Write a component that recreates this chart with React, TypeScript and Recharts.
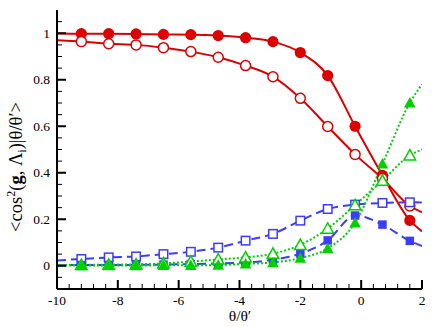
import React from 'react';
import { ComposedChart, Line, XAxis, YAxis } from 'recharts';

// theta/theta' sample positions
const thetaRatio = [-9.2, -8.3, -7.4, -6.5, -5.6, -4.7, -3.8, -2.9, -2.0, -1.1, -0.2, 0.7, 1.6];
const redFilled = [0.998, 0.998, 0.997, 0.995, 0.994, 0.990, 0.981, 0.964, 0.917, 0.818, 0.600, 0.389, 0.195];
const redOpen = [0.964, 0.955, 0.950, 0.938, 0.921, 0.897, 0.861, 0.813, 0.720, 0.599, 0.479, 0.375, 0.257];
const greenFilled = [0.001, 0.001, 0.001, 0.002, 0.002, 0.003, 0.008, 0.014, 0.033, 0.075, 0.185, 0.438, 0.701];
const greenOpen = [0.004, 0.005, 0.006, 0.010, 0.018, 0.027, 0.036, 0.052, 0.090, 0.160, 0.261, 0.366, 0.475];
const blueOpen = [0.029, 0.036, 0.040, 0.050, 0.060, 0.078, 0.108, 0.137, 0.194, 0.244, 0.263, 0.270, 0.273];
const blueFilled = [0.003, 0.003, 0.004, 0.005, 0.007, 0.010, 0.014, 0.026, 0.052, 0.109, 0.216, 0.177, 0.107];

// curve values at the plot edges (x = -10 and x = 2)
const curveEdgesX = [-10, 2];
const redFilledEdges = [0.999, 0.148];
const redOpenEdges = [0.970, 0.23];
const greenFilledEdges = [0.0, 0.78];
const greenOpenEdges = [0.003, 0.50];
const blueOpenEdges = [0.023, 0.272];
const blueFilledEdges = [0.002, 0.085];

const MAJOR_X = [-10, -8, -6, -4, -2, 0, 2];
const X_TICK_LABELS = ['-10', '-8', '-6', '-4', '-2', '0', '2'];
const MINOR_X = [-9.6, -9.2, -8.8, -8.4, -7.6, -7.2, -6.8, -6.4, -5.6, -5.2, -4.8, -4.4,
  -3.6, -3.2, -2.8, -2.4, -1.6, -1.2, -0.8, -0.4, 0.4, 0.8, 1.2, 1.6];
const MAJOR_Y = [0, 0.2, 0.4, 0.6, 0.8, 1];
const Y_TICK_LABELS = ['0', '0.2', '0.4', '0.6', '0.8', '1'];
const MINOR_Y = [-0.05, 0.05, 0.1, 0.15, 0.25, 0.3, 0.35, 0.45, 0.5, 0.55, 0.65, 0.7, 0.75,
  0.85, 0.9, 0.95, 1.05];

const RED = '#dd0000';
const GREEN = '#00d000';
const BLUE = '#3c3cff';
const FONT = '"Liberation Serif", "DejaVu Serif", serif';

const rows = [
  { x: curveEdgesX[0], rf: redFilledEdges[0], ro: redOpenEdges[0], gf: greenFilledEdges[0], go: greenOpenEdges[0], bo: blueOpenEdges[0], bf: blueFilledEdges[0], mark: false },
  ...thetaRatio.map((x, i) => ({
    x, rf: redFilled[i], ro: redOpen[i], gf: greenFilled[i], go: greenOpen[i], bo: blueOpen[i], bf: blueFilled[i], mark: true,
  })),
  { x: curveEdgesX[1], rf: redFilledEdges[1], ro: redOpenEdges[1], gf: greenFilledEdges[1], go: greenOpenEdges[1], bo: blueOpenEdges[1], bf: blueFilledEdges[1], mark: false },
];

const allX = [...MAJOR_X, ...MINOR_X].sort((a, b) => a - b);
const allY = [...MAJOR_Y, ...MINOR_Y].sort((a, b) => a - b);

const majorIndex = (v: number, list: number[]) => list.findIndex((m) => Math.abs(m - v) < 1e-6);

const BottomTick = (props: any) => {
  const { x, y, payload } = props;
  const i = majorIndex(payload.value, MAJOR_X);
  const len = i >= 0 ? 9 : 5;
  return (
    <g>
      <line x1={x} x2={x} y1={y} y2={y - len} stroke="#000" strokeWidth={i >= 0 ? 2 : 1} />
      {i >= 0 && (
        <text x={x} y={y + 16} textAnchor="middle" fontFamily={FONT} fontSize={13.5} fill="#000">
          {X_TICK_LABELS[i]}
        </text>
      )}
    </g>
  );
};

const TopTick = (props: any) => {
  const { x, y, payload } = props;
  const i = majorIndex(payload.value, MAJOR_X);
  const len = i >= 0 ? 9 : 5;
  return <line x1={x} x2={x} y1={y} y2={y + len} stroke="#000" strokeWidth={i >= 0 ? 2 : 1} />;
};

const LeftTick = (props: any) => {
  const { x, y, payload } = props;
  const i = majorIndex(payload.value, MAJOR_Y);
  const len = i >= 0 ? 9 : 5;
  return (
    <g>
      <line x1={x} x2={x + len} y1={y} y2={y} stroke="#000" strokeWidth={i >= 0 ? 2 : 1} />
      {i >= 0 && (
        <text x={x - 7} y={y + 4.5} textAnchor="end" fontFamily={FONT} fontSize={13.5} fill="#000">
          {Y_TICK_LABELS[i]}
        </text>
      )}
    </g>
  );
};

const RightTick = (props: any) => {
  const { x, y, payload } = props;
  const i = majorIndex(payload.value, MAJOR_Y);
  const len = i >= 0 ? 9 : 5;
  return <line x1={x} x2={x - len} y1={y} y2={y} stroke="#000" strokeWidth={i >= 0 ? 2 : 1} />;
};

type Kind = 'circleF' | 'circleO' | 'triF' | 'triO' | 'sqF' | 'sqO';

const makeDot = (kind: Kind, color: string) => (props: any) => {
  const { cx, cy, payload, index } = props;
  const key = `${kind}-${index}`;
  if (!payload || !payload.mark) return <g key={key} />;
  const filled = kind.endsWith('F');
  const fill = filled ? color : '#fff';
  const sw = filled ? 0 : 1.5;
  if (kind.startsWith('circle')) {
    return <circle key={key} cx={cx} cy={cy} r={filled ? 5.6 : 5} fill={fill} stroke={color} strokeWidth={sw} />;
  }
  if (kind.startsWith('sq')) {
    const s = 8.5;
    return <rect key={key} x={cx - s / 2} y={cy - s / 2} width={s} height={s} fill={fill} stroke={color} strokeWidth={sw} />;
  }
  const h = 5.8;
  const pts = `${cx},${cy - h} ${cx - h},${cy + h * 0.8} ${cx + h},${cy + h * 0.8}`;
  return <polygon key={key} points={pts} fill={fill} stroke={color} strokeWidth={sw} />;
};

const YLabel = () => (
  <text
    transform="translate(22,167) rotate(-90)"
    x={0}
    y={0}
    textAnchor="middle"
    fontFamily={FONT}
    fontSize={18.5}
    fill="#000"
  >
    {'<cos'}
    <tspan dy={-7} fontSize={12}>2</tspan>
    <tspan dy={7}>(</tspan>
    <tspan fontWeight="bold">g</tspan>
    <tspan>{', \u039B'}</tspan>
    <tspan dy={4} fontSize={12}>i</tspan>
    <tspan dy={-4}>{')|\u03B8/\u03B8\u2032>'}</tspan>
  </text>
);

const XLabel = () => (
  <text x={240} y={321} textAnchor="middle" fontFamily={FONT} fontSize={15.5} fill="#000">
    {'\u03B8/\u03B8\u2032'}
  </text>
);

export default function App() {
  return (
    <div style={{ position: 'absolute', left: 0, top: 0, width: 436, height: 327, background: '#fff' }}>
      <ComposedChart width={436} height={327} data={rows} margin={{ top: 10, right: 14, bottom: 8, left: 0 }}>
        <XAxis
          dataKey="x"
          type="number"
          domain={[-10, 2]}
          ticks={allX}
          interval={0}
          tickSize={0}
          tickMargin={0}
          tickLine={false}
          axisLine={{ stroke: '#000', strokeWidth: 2 }}
          tick={<BottomTick />}
          height={30}
          allowDataOverflow
          label={{ content: () => <XLabel /> }}
        />
        <XAxis
          xAxisId="top"
          orientation="top"
          type="number"
          domain={[-10, 2]}
          ticks={allX}
          interval={0}
          tickSize={0}
          tickMargin={0}
          tickLine={false}
          axisLine={{ stroke: '#000', strokeWidth: 2 }}
          tick={<TopTick />}
          height={0}
          allowDataOverflow
        />
        <YAxis
          type="number"
          domain={[-0.1, 1.1]}
          ticks={allY}
          interval={0}
          tickSize={0}
          tickMargin={0}
          tickLine={false}
          axisLine={{ stroke: '#000', strokeWidth: 2 }}
          tick={<LeftTick />}
          width={57}
          allowDataOverflow
          label={{ content: () => <YLabel /> }}
        />
        <YAxis
          yAxisId="right"
          orientation="right"
          type="number"
          domain={[-0.1, 1.1]}
          ticks={allY}
          interval={0}
          tickSize={0}
          tickMargin={0}
          tickLine={false}
          axisLine={{ stroke: '#000', strokeWidth: 2 }}
          tick={<RightTick />}
          width={0}
          allowDataOverflow
        />
        <Line type="monotone" dataKey="rf" stroke={RED} strokeWidth={2} dot={makeDot('circleF', RED)} activeDot={false} isAnimationActive={false} />
        <Line type="monotone" dataKey="ro" stroke={RED} strokeWidth={2} dot={makeDot('circleO', RED)} activeDot={false} isAnimationActive={false} />
        <Line type="monotone" dataKey="bo" stroke={BLUE} strokeWidth={2} strokeDasharray="9 5" dot={makeDot('sqO', BLUE)} activeDot={false} isAnimationActive={false} />
        <Line type="monotone" dataKey="bf" stroke={BLUE} strokeWidth={2} strokeDasharray="9 5" dot={makeDot('sqF', BLUE)} activeDot={false} isAnimationActive={false} />
        <Line type="monotone" dataKey="go" stroke={GREEN} strokeWidth={2} strokeDasharray="2 2" dot={makeDot('triO', GREEN)} activeDot={false} isAnimationActive={false} />
        <Line type="monotone" dataKey="gf" stroke={GREEN} strokeWidth={2} strokeDasharray="2 2" dot={makeDot('triF', GREEN)} activeDot={false} isAnimationActive={false} />
      </ComposedChart>
    </div>
  );
}
